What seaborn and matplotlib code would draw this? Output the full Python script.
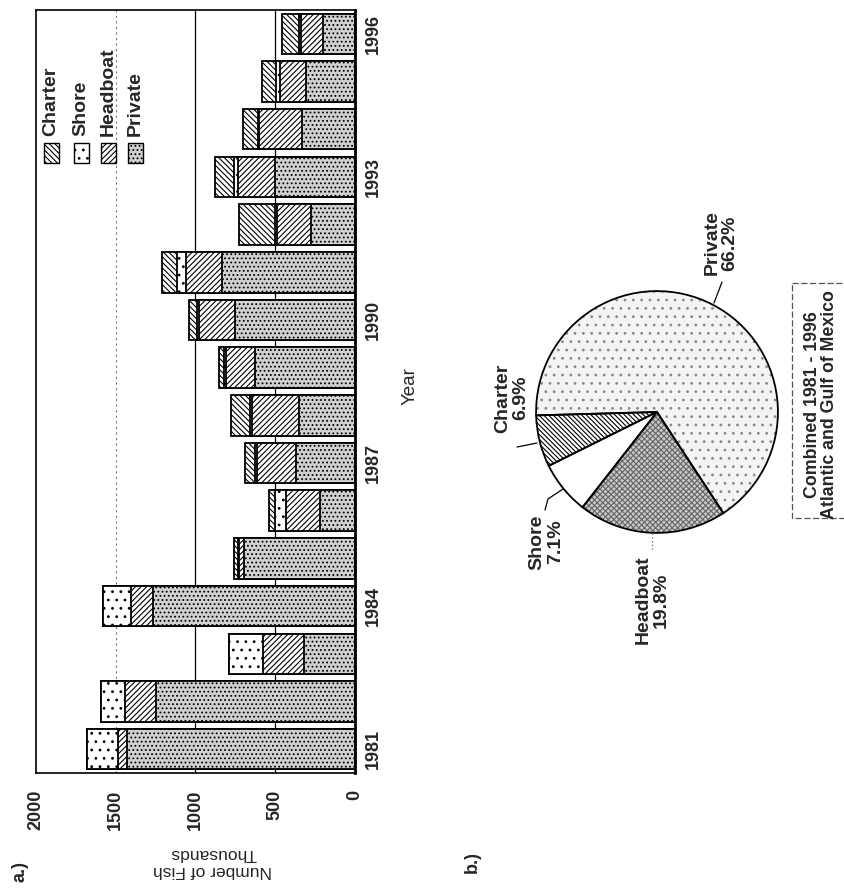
import matplotlib
matplotlib.use("Agg")
import matplotlib.pyplot as plt
from matplotlib.patches import Rectangle
import pandas as pd
import seaborn as sns

# values (thousands of fish)
years = list(range(1981, 1997))
private = [1427, 1250, 317, 1265, 698, 219, 373, 354, 625, 750, 833, 277, 504, 333, 306, 202]
headboat = [58, 192, 262, 141, 28, 214, 242, 292, 183, 229, 225, 215, 229, 267, 163, 138]
shore = [196, 150, 213, 172, 8, 67, 10, 10, 12, 10, 60, 8, 27, 10, 25, 8]
charter = [0, 0, 0, 0, 26, 42, 67, 121, 34, 53, 90, 229, 115, 94, 89, 108]

value_ticks = [0, 500, 1000, 1500, 2000]
year_ticks = [1981, 1984, 1987, 1990, 1993, 1996]
legend_order = ["Charter", "Shore", "Headboat", "Private"]

pie_labels = ["Charter", "Shore", "Headboat", "Private"]
pie_pct = [6.9, 7.1, 19.8, 66.2]

sns.set_theme(style="white")
plt.rcParams["font.family"] = ["Liberation Sans", "DejaVu Sans"]
plt.rcParams["hatch.linewidth"] = 0.8

W, H = 845, 889
fig = plt.figure(figsize=(W / 100, H / 100), dpi=100)


def box(left, top, right, bottom):
    # pixel box (origin top-left) -> figure fraction rect
    return [left / W, 1 - bottom / H, (right - left) / W, (bottom - top) / H]


styles = {
    "Charter": dict(face="white", hatch="\\" * 6),
    "Shore": dict(face="white", hatch=".."),
    "Headboat": dict(face="white", hatch="/" * 6),
    "Private": dict(face="#d0d0d0", hatch="...."),
}

# ---- a.) stacked bars, drawn sideways like the scanned page
ax = fig.add_axes(box(36, 10, 355, 773))
df = pd.DataFrame({"year": [str(y) for y in years], "Private": private,
                   "Headboat": headboat, "Shore": shore, "Charter": charter})
stack = ["Private", "Headboat", "Shore", "Charter"]
cum = df[stack].cumsum(axis=1)
order = df["year"].tolist()[::-1]

for layer in stack[::-1]:
    n0 = len(ax.patches)
    sns.barplot(x=cum[layer].values, y=df["year"].values, order=order, orient="h",
                color=styles[layer]["face"], saturation=1, edgecolor="black",
                linewidth=1.3, width=0.85, errorbar=None, ax=ax)
    for p in ax.patches[n0:]:
        p.set_hatch(styles[layer]["hatch"])
        p.set_zorder(2)

for v in [500, 1000]:
    ax.axvline(v, color="black", lw=0.9, zorder=1)
ax.axvline(1500, color="#777777", lw=0.8, ls=(0, (2, 3)), zorder=1)

ax.set_xlim(2000, 0)
ax.set_ylim(15.5, -0.5)
ax.set_xticks(value_ticks)
ax.set_xticklabels([str(v) for v in value_ticks], rotation=90, fontsize=13, fontweight="bold")
ax.yaxis.tick_right()
ax.set_yticks([order.index(str(y)) for y in year_ticks])
ax.set_yticklabels([str(y) for y in year_ticks], rotation=90, va="center",
                   fontsize=13, fontweight="bold")
ax.tick_params(axis="x", length=0, pad=12)
ax.tick_params(axis="y", length=0, pad=7)
ax.set_xlabel("")
ax.set_ylabel("")
for s in ax.spines.values():
    s.set_color("black")
    s.set_linewidth(1.2)
ax.spines["right"].set_linewidth(2)

# ---- b.) pie: fills with grey hatching first, black outlines on top
ax_pie = fig.add_axes(box(657 - 133, 412 - 133, 657 + 133, 412 + 133))
wedges, _ = ax_pie.pie(pie_pct, startangle=181.6, counterclock=True,
                       colors=["white", "white", "#c8c8c8", "#f4f4f4"],
                       wedgeprops=dict(linewidth=0))
for w, h, hc in zip(wedges, ["\\" * 7, "", "xxxxxx", ".."],
                    ["black", "black", "#666666", "#8a8a8a"]):
    w.set_hatch(h)
    w.set_edgecolor(hc)
    w.set_linewidth(0)
ax_pie.pie(pie_pct, startangle=181.6, counterclock=True,
           wedgeprops=dict(fill=False, edgecolor="black", linewidth=1.3))
ax_pie.set_xlim(-1.1, 1.1)
ax_pie.set_ylim(-1.1, 1.1)
ax_pie.set_aspect("equal")

# ---- overlay in pixel coordinates for the loose text
ov = fig.add_axes([0, 0, 1, 1])
ov.set_xlim(0, W)
ov.set_ylim(H, 0)
ov.axis("off")
ov.patch.set_alpha(0)

# legend
for lab, cx in zip(legend_order, [51, 81, 108, 135]):
    ov.add_patch(Rectangle((cx - 7, 143), 15, 20, facecolor=styles[lab]["face"],
                           edgecolor="black", hatch=styles[lab]["hatch"], lw=1))
    ov.text(cx, 136, lab, rotation=90, ha="center", va="bottom",
            fontsize=14, fontweight="bold")

ov.text(213, 862, "Number of Fish\nThousands", rotation=180, ha="center", va="center",
        multialignment="center", fontsize=12.5)
ov.text(410, 386, "Year", rotation=90, ha="center", va="center", fontsize=13.5)
ov.text(20, 872, "a.)", rotation=90, ha="center", va="center", fontsize=13, fontweight="bold")
ov.text(472, 862, "b.)", rotation=90, ha="center", va="center", fontsize=13, fontweight="bold")

# pie labels and leader lines
label_pos = {"Charter": (512, 398), "Shore": (546, 542), "Headboat": (652, 600), "Private": (721, 243)}
for lab, pct in zip(pie_labels, pie_pct):
    x, y = label_pos[lab]
    ov.text(x, y, f"{lab}\n{pct}%", rotation=90, ha="center", va="center",
            multialignment="center", fontsize=14, fontweight="bold", linespacing=1.1)
ov.plot([517, 537], [447, 443], color="black", lw=0.9)
ov.plot([545, 548, 563], [510, 499, 489], color="black", lw=0.9)
ov.plot([652, 652], [533, 549], color="#555555", lw=0.9, ls=(0, (1, 2)))
ov.plot([722, 714], [282, 303], color="black", lw=0.9)

ov.add_patch(Rectangle((792, 283), 80, 235, fill=False, edgecolor="#555555",
                       lw=0.9, ls=(0, (5, 2))))
ov.text(821, 405, "Combined 1981 - 1996\nAtlantic and Gulf of Mexico", rotation=90,
        ha="center", va="center", multialignment="center", fontsize=12.8,
        fontweight="bold", linespacing=1.05)

fig.savefig("out.png", dpi=100)
